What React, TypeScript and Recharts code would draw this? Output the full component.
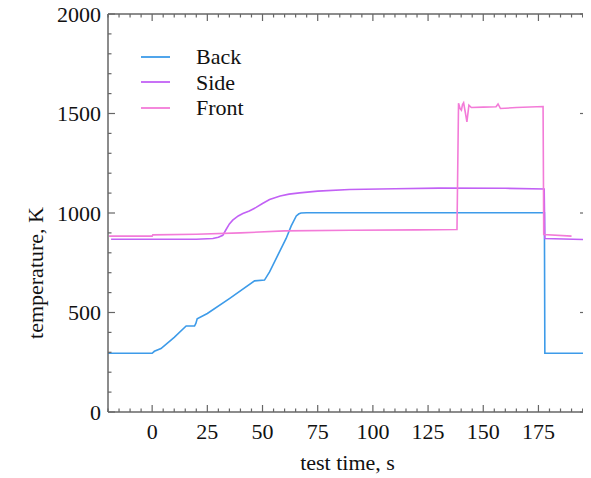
import React from 'react';
import { LineChart, Line, XAxis, YAxis, Legend, Label } from 'recharts';

// test time (s) and temperature (K)
const backT = [-20, 0, 1, 4, 10, 15.4, 19.2, 19.8, 20.4, 25, 35, 46.4, 50.9, 53.2, 57, 60.7, 63, 65.3, 66.5, 67.5, 70, 177.7, 177.9, 197];
const backV = [295, 295, 305, 319, 375, 432, 432, 445, 468, 495, 570, 659, 663, 704, 790, 872, 935, 985, 996, 1000, 1001, 1001, 295, 295];

const sideT = [-18.6, 0, 20, 27.5, 30, 32, 33.5, 35, 36.5, 39, 41.1, 44, 47.1, 50, 53.2, 58, 62, 66.8, 75, 89.4, 110, 130, 160, 177.6, 177.9, 197];
const sideV = [868, 868, 868, 872, 878, 888, 917, 945, 964, 985, 997, 1010, 1028, 1048, 1068, 1085, 1095, 1101, 1110, 1118, 1122, 1125, 1124, 1121, 872, 866];

const frontT = [-19.5, 0, 0.3, 20, 40, 60, 90, 120, 138.1, 138.8, 139.5, 140.1, 140.6, 141.1, 141.8, 142.6, 143.5, 144.6, 150, 155.8, 156.7, 157.8, 165, 177.1, 177.4, 190];
const frontV = [884, 884, 890, 893, 900, 910, 913, 915, 917, 1551, 1525, 1517, 1545, 1554, 1510, 1458, 1542, 1530, 1532, 1534, 1548, 1525, 1530, 1535, 892, 884];

const xTicks = [-20, -15, -10, -5, 0, 5, 10, 15, 20, 25, 30, 35, 40, 45, 50, 55, 60, 65, 70, 75, 80, 85, 90, 95, 100, 105, 110, 115, 120, 125, 130, 135, 140, 145, 150, 155, 160, 165, 170, 175, 180, 185, 190, 195];
const xLabels = [0, 25, 50, 75, 100, 125, 150, 175];
const yTicks = [0, 100, 200, 300, 400, 500, 600, 700, 800, 900, 1000, 1100, 1200, 1300, 1400, 1500, 1600, 1700, 1800, 1900, 2000];
const yLabels = [0, 500, 1000, 1500, 2000];

const series = [
  { name: 'Back', color: '#3d9be9', t: backT, v: backV },
  { name: 'Side', color: '#c261f5', t: sideT, v: sideV },
  { name: 'Front', color: '#f37bd8', t: frontT, v: frontV },
];

const FONT = '"Liberation Serif", "Times New Roman", serif';
const AXIS = '#666';
const MAJOR = 7;
const MINOR = 3.5;

function BottomTick(p: any) {
  const v = p.payload.value;
  const major = xLabels.includes(v);
  return (
    <g>
      <line x1={p.x} x2={p.x} y1={p.y} y2={p.y - (major ? MAJOR : MINOR)} stroke={AXIS} strokeWidth={1.2} />
      {major && (
        <text x={p.x} y={p.y + 19} textAnchor="middle" dominantBaseline="central" fontFamily={FONT} fontSize={22} fill="#111">
          {v}
        </text>
      )}
    </g>
  );
}

function TopTick(p: any) {
  const major = xLabels.includes(p.payload.value);
  return <line x1={p.x} x2={p.x} y1={p.y} y2={p.y + (major ? MAJOR : MINOR)} stroke={AXIS} strokeWidth={1.2} />;
}

function LeftTick(p: any) {
  const v = p.payload.value;
  const major = yLabels.includes(v);
  return (
    <g>
      <line x1={p.x} x2={p.x + (major ? MAJOR : MINOR)} y1={p.y} y2={p.y} stroke={AXIS} strokeWidth={1.2} />
      {major && (
        <text x={p.x - 7} y={p.y} textAnchor="end" dominantBaseline="central" fontFamily={FONT} fontSize={22} fill="#111">
          {v}
        </text>
      )}
    </g>
  );
}

function RightTick(p: any) {
  const major = yLabels.includes(p.payload.value);
  return <line x1={p.x} x2={p.x - (major ? MAJOR : MINOR)} y1={p.y} y2={p.y} stroke={AXIS} strokeWidth={1.2} />;
}

function LegendBox() {
  return (
    <div style={{ fontFamily: FONT, fontSize: 22, color: '#111' }}>
      {series.map((s) => (
        <div key={s.name} style={{ display: 'flex', alignItems: 'center', height: 25.5 }}>
          <svg width={29} height={4} style={{ marginRight: 26 }}>
            <line x1={0} x2={29} y1={2} y2={2} stroke={s.color} strokeWidth={1.8} />
          </svg>
          <span style={{ lineHeight: '25.5px' }}>{s.name}</span>
        </div>
      ))}
    </div>
  );
}

export default function App() {
  return (
    <div style={{ width: 583, height: 470 }}>
      <LineChart width={583} height={470} margin={{ top: 5, right: 3, bottom: 0, left: 0 }}>
        <XAxis
          type="number"
          dataKey="t"
          domain={[-20, 197]}
          allowDataOverflow
          ticks={xTicks}
          interval={0}
          tickSize={0}
          tickMargin={0}
          height={66}
          axisLine={{ stroke: AXIS, strokeWidth: 1.5 }}
          tickLine={false}
          tick={(p: any) => <BottomTick {...p} />}
        >
          <Label
            content={(p: any) => (
              <text x={p.viewBox.x + p.viewBox.width / 2} y={p.viewBox.y + 50} textAnchor="middle" dominantBaseline="central" fontFamily={FONT} fontSize={22} fill="#111">
                test time, s
              </text>
            )}
          />
        </XAxis>
        <XAxis
          xAxisId="top"
          orientation="top"
          type="number"
          dataKey="t"
          domain={[-20, 197]}
          allowDataOverflow
          ticks={xTicks}
          interval={0}
          tickSize={0}
          tickMargin={0}
          height={1}
          axisLine={{ stroke: AXIS, strokeWidth: 1.5 }}
          tickLine={false}
          tick={(p: any) => <TopTick {...p} />}
        />
        <YAxis
          type="number"
          domain={[0, 2000]}
          allowDataOverflow
          ticks={yTicks}
          interval={0}
          tickSize={0}
          tickMargin={0}
          width={100}
          axisLine={{ stroke: AXIS, strokeWidth: 1.5 }}
          tickLine={false}
          tick={(p: any) => <LeftTick {...p} />}
        >
          <Label
            content={(p: any) => {
              const cx = p.viewBox.x + 27;
              const cy = p.viewBox.y + p.viewBox.height / 2 + 60;
              return (
                <text x={cx} y={cy} transform={`rotate(-90 ${cx} ${cy})`} textAnchor="middle" dominantBaseline="central" fontFamily={FONT} fontSize={22} fill="#111">
                  temperature, K
                </text>
              );
            }}
          />
        </YAxis>
        <YAxis
          yAxisId="right"
          orientation="right"
          type="number"
          domain={[0, 2000]}
          allowDataOverflow
          ticks={yTicks}
          interval={0}
          tickSize={0}
          tickMargin={0}
          width={1}
          axisLine={{ stroke: AXIS, strokeWidth: 1.5 }}
          tickLine={false}
          tick={(p: any) => <RightTick {...p} />}
        />
        <Legend
          layout="vertical"
          align="center"
          verticalAlign="middle"
          wrapperStyle={{ left: 133, top: 36, width: 'auto' }}
          content={() => <LegendBox />}
        />
        {series.map((s) => (
          <Line
            key={s.name}
            name={s.name}
            data={s.t.map((t, i) => ({ t, v: s.v[i] }))}
            dataKey="v"
            type="linear"
            stroke={s.color}
            strokeWidth={1.6}
            dot={false}
            activeDot={false}
            isAnimationActive={false}
          />
        ))}
      </LineChart>
    </div>
  );
}
